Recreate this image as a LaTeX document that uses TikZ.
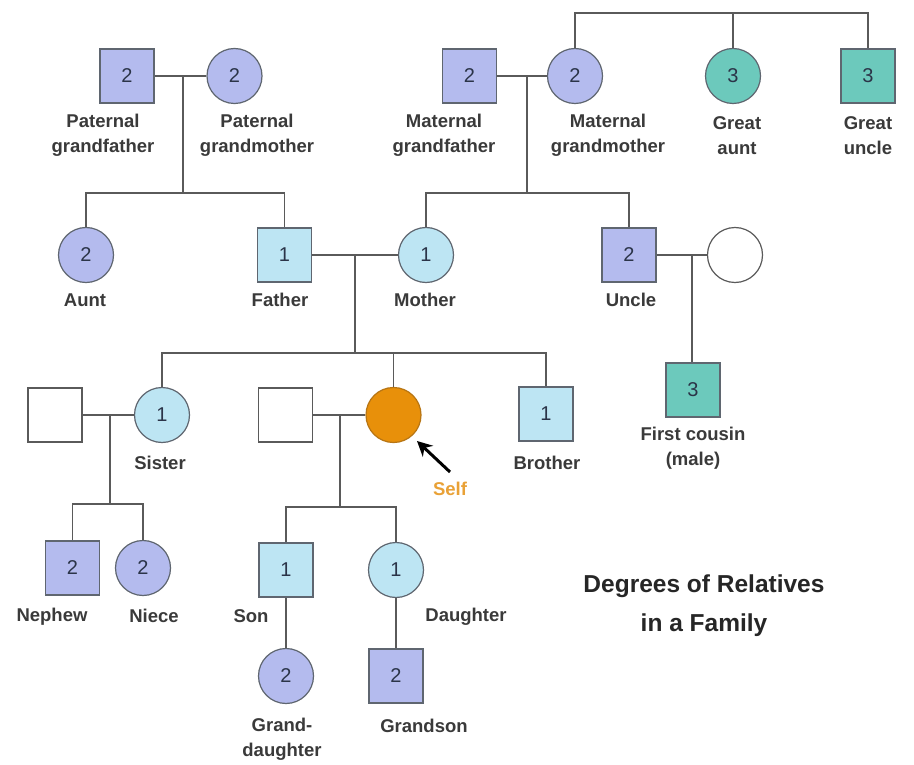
\documentclass[tikz,border=0pt]{standalone}
\usepackage{fontspec}
\setmainfont{Liberation Sans}
\usetikzlibrary{arrows.meta}
\definecolor{lav}{HTML}{B4BBEE}
\definecolor{lblue}{HTML}{BDE5F3}
\definecolor{teal3}{HTML}{6CC9BC}
\definecolor{selfor}{HTML}{E8900A}
\definecolor{selfbd}{HTML}{B77514}
\definecolor{bord}{HTML}{5F6670}
\definecolor{conn}{HTML}{5A5A5A}
\definecolor{numc}{HTML}{2B3448}
\definecolor{lblc}{HTML}{3A3A3A}
\definecolor{selftxt}{HTML}{E9A136}
\tikzset{
  sq/.style={rectangle, minimum size=54pt, inner sep=0pt, draw=bord, line width=1.2pt,
    font=\fontsize{20}{22}\selectfont, text=numc},
  ci/.style={circle, minimum size=55pt, inner sep=0pt, draw=bord, line width=1.2pt,
    font=\fontsize{20}{22}\selectfont, text=numc},
  lavf/.style={fill=lav},
  lbf/.style={fill=lblue},
  tlf/.style={fill=teal3},
  whf/.style={fill=white, draw=conn},
  lbl/.style={font=\bfseries\fontsize{18.5}{25}\selectfont, text=lblc, align=center, inner sep=0pt},
  link/.style={draw=conn, line width=1.5pt},
}
\begin{document}
\begin{tikzpicture}[x=1pt,y=-1pt]
\useasboundingbox (0,0) rectangle (914,765);
\fill[white] (0,0) rectangle (914,765);
% generation 1
\node[sq,lavf] (pgf) at (127,76) {2};
\node[ci,lavf] (pgm) at (234.5,76) {2};
\node[sq,lavf] (mgf) at (469.5,76) {2};
\node[ci,lavf] (mgm) at (575,76) {2};
\node[ci,tlf] (gaunt) at (733,76) {3};
\node[sq,tlf] (guncle) at (868,76) {3};
% generation 2
\node[ci,lavf] (aunt) at (86,255) {2};
\node[sq,lbf] (father) at (284.5,255) {1};
\node[ci,lbf] (mother) at (426,255) {1};
\node[sq,lavf] (uncle) at (629,255) {2};
\node[ci,whf] (uwife) at (735,255) {};
% generation 3
\node[sq,whf] (shus) at (55,415) {};
\node[ci,lbf] (sister) at (162,415) {1};
\node[sq,whf] (hus) at (285.5,415) {};
\node[ci,fill=selfor,draw=selfbd] (self) at (393.5,415) {};
\node[sq,lbf] (brother) at (546,414) {1};
\node[sq,tlf] (cousin) at (693,390) {3};
% generation 4
\node[sq,lavf] (nephew) at (72.5,568) {2};
\node[ci,lavf] (niece) at (143,568) {2};
\node[sq,lbf] (son) at (286,570) {1};
\node[ci,lbf] (daughter) at (396,570) {1};
% generation 5
\node[ci,lavf] (gdaughter) at (286,676) {2};
\node[sq,lavf] (gson) at (396,676) {2};

% junction coordinates
\coordinate (topbar) at (733,13);
\coordinate (pm) at (183,76);
\coordinate (pb) at (183,193);
\coordinate (mm) at (527,76);
\coordinate (mb) at (527,193);
\coordinate (fm) at (355,255);
\coordinate (fb) at (355,353);
\coordinate (um) at (692,255);
\coordinate (sm) at (110,415);
\coordinate (sb) at (110,504);
\coordinate (hm) at (340,415);
\coordinate (hb) at (340,507);

% connectors
\draw[link] (mgm.north) -- (mgm.north |- topbar) -- (guncle.north |- topbar) -- (guncle.north);
\draw[link] (gaunt.north) -- (topbar);
\draw[link] (pgf) -- (pgm);
\draw[link] (pm) -- (pb);
\draw[link] (aunt.north) |- (pb) -| (father.north);
\draw[link] (mgf) -- (mgm);
\draw[link] (mm) -- (mb);
\draw[link] (mother.north) |- (mb) -| (uncle.north);
\draw[link] (father) -- (mother);
\draw[link] (fm) -- (fb);
\draw[link] (sister.north) |- (fb) -| (brother.north);
\draw[link] (self.north) -- (self.north |- fb);
\draw[link] (uncle) -- (uwife);
\draw[link] (um) -- (um |- cousin.north);
\draw[link] (shus) -- (sister);
\draw[link] (sm) -- (sb);
\draw[link] (nephew.north) |- (sb) -| (niece.north);
\draw[link] (hus) -- (self);
\draw[link] (hm) -- (hb);
\draw[link] (son.north) |- (hb) -| (daughter.north);
\draw[link] (son) -- (gdaughter);
\draw[link] (daughter) -- (gson);

% labels
\node[lbl] (lpgf) at (103,135.5) {Paternal\\grandfather};
\node[lbl] (lpgm) at (257,135.5) {Paternal\\grandmother};
\node[lbl] (lmgf) at (444,135.5) {Maternal\\grandfather};
\node[lbl] (lmgm) at (608,135.5) {Maternal\\grandmother};
\node[lbl] (lgaunt) at (737,135.5) {Great\\aunt};
\node[lbl] (lguncle) at (868,135.5) {Great\\uncle};
\node[lbl] (launt) at (85,300) {Aunt};
\node[lbl] (lfather) at (280,300) {Father};
\node[lbl] (lmother) at (425,300) {Mother};
\node[lbl] (luncle) at (631,300) {Uncle};
\node[lbl] (lsister) at (160,463) {Sister};
\node[lbl] (lbrother) at (547,463) {Brother};
\node[lbl] (lcousin) at (693,448) {First cousin\\(male)};
\node[lbl] (lnephew) at (52,617) {Nephew};
\node[lbl] (lniece) at (154,616) {Niece};
\node[lbl] (lson) at (251,616) {Son};
\node[lbl] (ldaughter) at (466,617) {Daughter};
\node[lbl] (lgdaughter) at (282,739) {Grand-\\daughter};
\node[lbl] (lgson) at (424,726) {Grandson};
\node[lbl, text=selftxt] (lself) at (450,489) {Self};
\node[font=\bfseries\fontsize{24.5}{39}\selectfont, text=black!85, align=center, inner sep=0pt] (title) at (704,605.5) {Degrees of Relatives\\in a Family};

% self arrow
\coordinate (arrtail) at (450,472);
\coordinate (arrtip) at (417,441);
\draw[line width=3pt, -{Stealth[length=15pt,width=15pt]}] (arrtail) -- (arrtip);
\end{tikzpicture}
\end{document}
